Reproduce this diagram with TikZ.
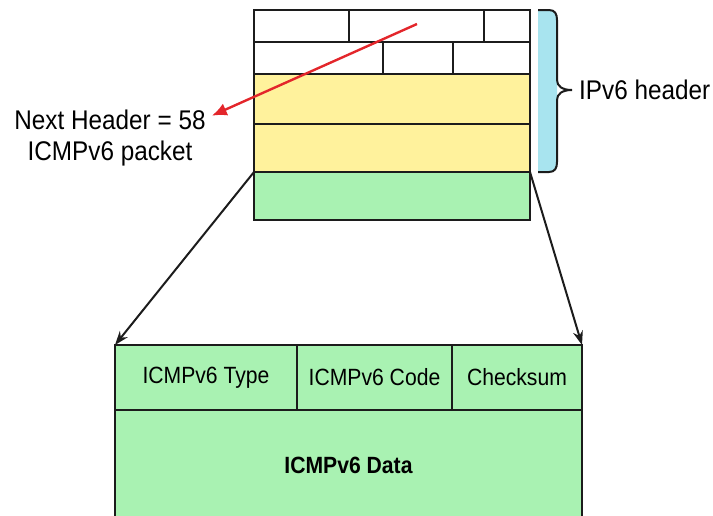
\documentclass[tikz,border=0pt]{standalone}
\usepackage{fontspec}
\setmainfont{Liberation Sans}[FakeStretch=0.9]
\usetikzlibrary{arrows.meta,positioning}
\definecolor{hdryellow}{HTML}{FFF29C}
\definecolor{icmpgreen}{HTML}{A9F2B2}
\definecolor{bracecyan}{HTML}{A8E4EF}
\definecolor{pointred}{HTML}{E3262B}
\definecolor{edge}{HTML}{1C1C1C}

\begin{document}
\begin{tikzpicture}[x=1pt,y=-1pt, every node/.style={font=\fontsize{23.5}{27}\selectfont}, cell/.style={draw=edge,line width=2pt,inner sep=0pt,outer sep=0pt,minimum width=#1}, cell/.default=276pt, big/.style={font=\fontsize{27}{31}\selectfont,inner sep=0pt}, drop/.style={-{Stealth[length=14pt,width=10pt]},line width=2pt,draw=edge}, pointer/.style={-{Latex[length=15pt,width=13pt]},line width=2.4pt,draw=pointred}]
\useasboundingbox (0,0) rectangle (713,515);
\node[cell,minimum height=32pt,anchor=north west] (rowA) at (254,10) {};
\node[cell,minimum height=32pt,below=0pt of rowA] (rowB) {};
\node[cell,fill=hdryellow,minimum height=50pt,below=0pt of rowB] (rowC) {};
\node[cell,fill=hdryellow,minimum height=48pt,below=0pt of rowC] (rowD) {};
\node[cell,fill=icmpgreen,minimum height=48pt,below=0pt of rowD] (payload) {};
\foreach \dx in {95,230} \draw[edge,line width=2pt] ([xshift=\dx pt]rowA.north west) -- ([xshift=\dx pt]rowA.south west);
\foreach \dx in {129,199} \draw[edge,line width=2pt] ([xshift=\dx pt]rowB.north west) -- ([xshift=\dx pt]rowB.south west);
\fill[bracecyan] (538,10) -- (549,10) .. controls (555,10) and (557,14) .. (557,20) -- (557,162) .. controls (557,168) and (555,172) .. (549,172) -- (538,172) -- cycle;
\draw[edge,line width=2pt] (538,10) -- (549,10) .. controls (555,10) and (557,14) .. (557,20) -- (557,80) .. controls (557,86) and (562,90) .. (572,90) .. controls (562,90) and (557,94) .. (557,100) -- (557,162) .. controls (557,168) and (555,172) .. (549,172) -- (538,172);
\node[big,anchor=west] (ipv6Label) at (579,90) {IPv6 header};
\node[big,align=center] (nhLabel) at (110,138) {Next Header = 58\\ICMPv6 packet};
\coordinate (redStart) at (417,24);
\draw[pointer] (redStart) -- ([xshift=6pt,yshift=-6pt]nhLabel.north east);
\node[cell=182pt,fill=icmpgreen,minimum height=65pt,anchor=north west] (typeCell) at (115,345) {ICMPv6 Type};
\node[cell=155pt,fill=icmpgreen,minimum height=65pt,right=0pt of typeCell] (codeCell) {ICMPv6 Code};
\node[cell=130pt,fill=icmpgreen,minimum height=65pt,right=0pt of codeCell] (sumCell) {Checksum};
\node[cell=467pt,fill=icmpgreen,minimum height=110pt,anchor=north west,font=\fontsize{23.5}{27}\selectfont\bfseries] (dataCell) at (typeCell.south west) {ICMPv6 Data};
\draw[drop] (payload.north west) -- (typeCell.north west);
\draw[drop] (payload.north east) -- (sumCell.north east);
\end{tikzpicture}
\end{document}
